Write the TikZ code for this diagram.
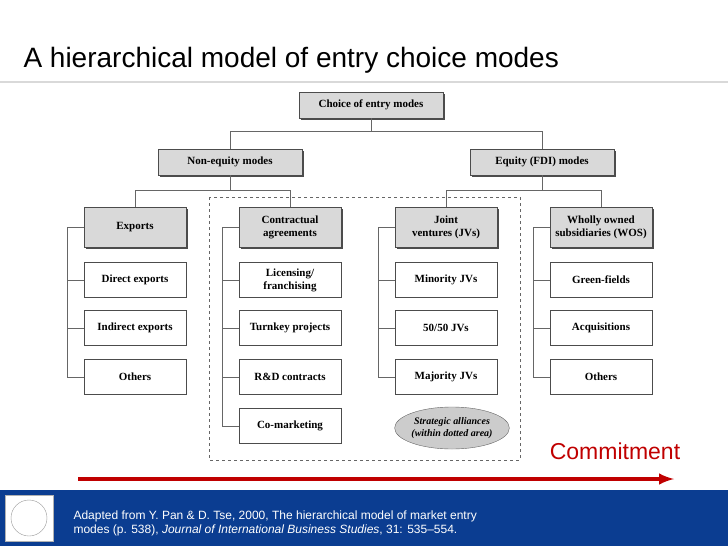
\documentclass[tikz,border=0pt]{standalone}
\usepackage{fontspec}
\setmainfont{Liberation Serif}
\setsansfont{Liberation Sans}
\usetikzlibrary{shadows,shapes.geometric}
\definecolor{footblue}{HTML}{0B3D91}
\definecolor{commitred}{HTML}{C00000}
\tikzset{
  headbox/.style={draw=black!70,fill=black!15,minimum width=102pt,minimum height=40pt,align=center,font=\fontsize{11}{13}\selectfont\bfseries,drop shadow={shadow xshift=1.5pt,shadow yshift=-1.5pt,fill=black!70,opacity=1}},
  topbox/.style={headbox,minimum width=144pt,minimum height=26pt},
  leafbox/.style={draw=black!70,fill=white,minimum width=102pt,minimum height=35pt,align=center,font=\fontsize{11}{13}\selectfont\bfseries},
  link/.style={black!60,line width=0.7pt}
}
\begin{document}
\begin{tikzpicture}[x=1pt,y=-1pt]
	\useasboundingbox (0,0) rectangle (728,546);

	% title
	\node[anchor=west,font=\sffamily\fontsize{28}{32}\selectfont] (title) at (20,60) {A hierarchical model of entry choice modes};
	\draw[black!15,line width=1.5pt] (0,82) -- (728,82);

	% strategic alliances area
	\draw[dashed,black!60] (209,197) rectangle (520,460);

	% top levels
	\node[topbox] (choice) at (371,105) {Choice of entry modes};
	\node[topbox] (noneq) at (230,162) {Non-equity modes};
	\node[topbox] (equity) at (542,162) {Equity (FDI) modes};

	\node[headbox] (exports) at (135,227) {Exports};
	\node[headbox] (contract) at (290,227) {Contractual\\agreements};
	\node[headbox] (jv) at (446,227) {Joint\\ventures (JVs)};
	\node[headbox] (wos) at (601,227) {Wholly owned\\subsidiaries (WOS)};

	% leaves
	\node[leafbox] (exp1) at (135,280) {Direct exports};
	\node[leafbox] (exp2) at (135,328) {Indirect exports};
	\node[leafbox] (exp3) at (135,377) {Others};

	\node[leafbox] (con1) at (290,280) {Licensing/\\franchising};
	\node[leafbox] (con2) at (290,328) {Turnkey projects};
	\node[leafbox] (con3) at (290,377) {R\&D contracts};
	\node[leafbox] (con4) at (290,426) {Co-marketing};

	\node[leafbox] (jv1) at (446,280) {Minority JVs};
	\node[leafbox] (jv2) at (446,328) {50/50 JVs};
	\node[leafbox] (jv3) at (446,377) {Majority JVs};

	\node[leafbox] (wos1) at (601,280) {Green-fields};
	\node[leafbox] (wos2) at (601,328) {Acquisitions};
	\node[leafbox] (wos3) at (601,377) {Others};

	\node[ellipse,draw=black!60,fill=black!20,minimum width=106pt,minimum height=42pt,inner sep=0pt,align=center,font=\fontsize{10}{12}\selectfont\bfseries\itshape] (alliance) at (452,428) {Strategic alliances\\(within dotted area)};

	% tree links
	\draw[link] (choice.south) -- ++(0,13) -| (noneq.north);
	\draw[link] (choice.south) -- ++(0,13) -| (equity.north);
	\draw[link] (noneq.south) -- ++(0,15) -| (exports.north);
	\draw[link] (noneq.south) -- ++(0,15) -| (contract.north);
	\draw[link] (equity.south) -- ++(0,15) -| (jv.north);
	\draw[link] (equity.south) -- ++(0,15) -| (wos.north);

	\foreach \parent/\kids in {exports/{exp1,exp2,exp3},contract/{con1,con2,con3,con4},jv/{jv1,jv2,jv3},wos/{wos1,wos2,wos3}}{
		\foreach \kid in \kids {
			\draw[link] (\parent.west) -- ++(-16,0) |- (\kid.west);
		}
	}

	% commitment arrow
	\node[text=commitred,font=\sffamily\fontsize{23}{26}\selectfont] (commit) at (615,451) {Commitment};
	\coordinate (arrstart) at (78,479);
	\coordinate (arrend) at (674,479);
	\draw[-latex,commitred,line width=4pt] (arrstart) -- (arrend);

	% footer
	\fill[footblue] (0,490) rectangle (728,546);
	\node[draw=black!30,fill=white,minimum width=48pt,minimum height=46pt] (logo) at (29,518) {};
	\node[circle,draw=black!40,minimum size=36pt] (seal) at (logo) {};
	\node[anchor=west,text=white,align=left,font=\sffamily\fontsize{12}{14}\selectfont] (source) at (70,523)
		{Adapted from Y. Pan \& D. Tse, 2000, The hierarchical model of market entry\\modes (p. 538), \textit{Journal of International Business Studies}, 31: 535--554.};
\end{tikzpicture}
\end{document}
